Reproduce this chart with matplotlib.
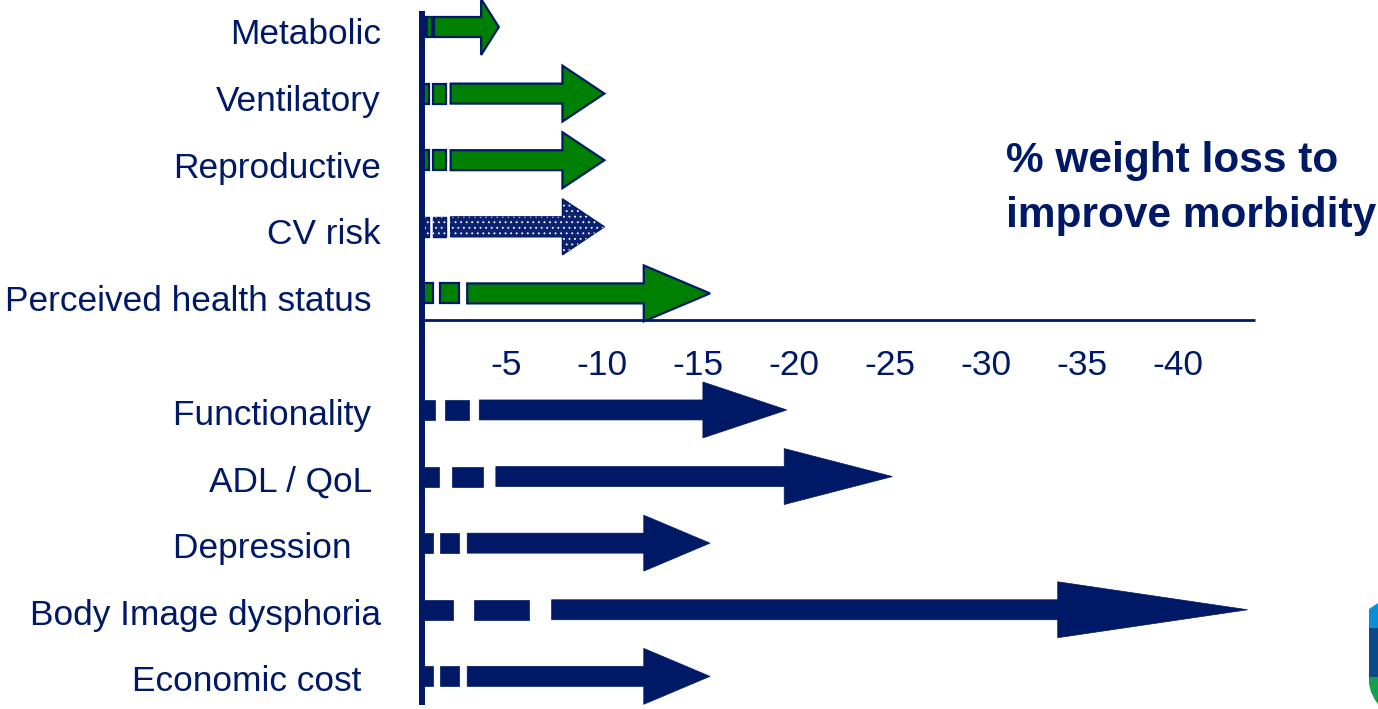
import matplotlib.pyplot as plt
from matplotlib.patches import Polygon, Rectangle
from matplotlib.transforms import ScaledTranslation

plt.rcParams['font.family'] = ['Liberation Sans', 'DejaVu Sans']
plt.rcParams['hatch.linewidth'] = 0.6

NAVY = '#001966'
GREEN = '#008000'

# morbidities above the scale (% weight loss needed, as magnitude)
top_labels = ['Metabolic', 'Ventilatory', 'Reproductive', 'CV risk', 'Perceived health status ']
top_loss = [4, 9.5, 9.5, 9.5, 15]
top_fill = ['green', 'green', 'green', 'dots', 'green']

# morbidities below the scale
bottom_labels = ['Functionality ', 'ADL / QoL ', 'Depression   ', 'Body Image dysphoria', 'Economic cost  ']
bottom_loss = [19, 24.5, 15, 43, 15]

tick_values = [5, 10, 15, 20, 25, 30, 35, 40]
tick_labels = ['-5', '-10', '-15', '-20', '-25', '-30', '-35', '-40']

title = '% weight loss to\nimprove morbidity'

# arrow shape, as fractions of the arrow length
SEG1 = (0.0, 0.037)
SEG2 = (0.063, 0.13)
SHAFT_START = 0.157
HEAD_START = 0.77
HALF_SHAFT = 0.15
HALF_HEAD = 0.42


def draw_arrow(ax, y, length, face, edge, lw, hatch=False):
    parts = []
    for a, b in (SEG1, SEG2):
        parts.append(Rectangle((a * length, y - HALF_SHAFT), (b - a) * length, 2 * HALF_SHAFT))
    x1, x2 = SHAFT_START * length, HEAD_START * length
    parts.append(Polygon([(x1, y - HALF_SHAFT), (x2, y - HALF_SHAFT), (x2, y - HALF_HEAD),
                          (length, y), (x2, y + HALF_HEAD), (x2, y + HALF_SHAFT),
                          (x1, y + HALF_SHAFT)], closed=True))
    for p in parts:
        p.set_facecolor(face)
        p.set_edgecolor(edge)
        p.set_linewidth(lw)
        p.set_joinstyle('miter')
        p.set_zorder(2)
        ax.add_patch(p)
        if hatch:
            # white dotted overlay on the same outline
            h = Polygon(ax.transData.inverted().transform(p.get_verts()), closed=True)
            h.set_facecolor('none')
            h.set_edgecolor('white')
            h.set_linewidth(0)
            h.set_hatch('...')
            h.set_zorder(3)
            ax.add_patch(h)


fig = plt.figure(figsize=(13.78, 7.09), dpi=100)
ax = fig.add_axes([0, 0, 1, 1])
px = 19.2  # pixels per % on the x scale, origin at the vertical axis
row = 66.6
ax.set_xlim(-422 / px, (1378 - 422) / px)
ax.set_ylim((709 - 27) / row, -27 / row)
ax.axis('off')

top_rows = list(range(len(top_labels)))
bottom_rows = [len(top_labels) + 0.75 + i for i in range(len(bottom_labels))]

for y, lab, loss, fill in zip(top_rows, top_labels, top_loss, top_fill):
    if fill == 'dots':
        draw_arrow(ax, y, loss, '#0a2270', NAVY, 1.0, hatch=True)
    else:
        draw_arrow(ax, y, loss, GREEN, NAVY, 1.6)
    ax.text(-2.14, y + 0.12, lab, ha='right', va='center', fontsize=25.4, color=NAVY)

for y, lab, loss in zip(bottom_rows, bottom_labels, bottom_loss):
    draw_arrow(ax, y, loss, NAVY, NAVY, 0.5)
    ax.text(-2.14, y + 0.08, lab, ha='right', va='center', fontsize=25.4, color=NAVY)

# axes of the diagram
ax.plot([0, 0], [-0.24, 10.18], color=NAVY, lw=4.3, solid_capstyle='butt', zorder=5)
ax.plot([0, 43.4], [4.4, 4.4], color=NAVY, lw=2.0, solid_capstyle='butt', zorder=5)

shift = ax.transData + ScaledTranslation(-0.12, 0, fig.dpi_scale_trans)
for v, t in zip(tick_values, tick_labels):
    ax.text(v, 5.09, t, ha='center', va='center', fontsize=25.4, color=NAVY, transform=shift)

ax.text(30.4, 2.43, title, ha='left', va='center', fontsize=30.5, fontweight='bold',
        color=NAVY, linespacing=1.48)

# corner of the logo at the right edge (figure pixels)
W, H = 1378, 709
logo = [
    ([(1369, 609), (1378, 603), (1378, 628), (1369, 628)], '#0a8fd6'),
    ([(1369, 628), (1378, 628), (1378, 677), (1369, 677)], '#0a4a8a'),
    ([(1369, 677), (1378, 677), (1378, 704), (1375, 700), (1371, 692), (1369, 684)], '#10a050'),
]
for pts, c in logo:
    ax.add_patch(Polygon([(x / W, 1 - y / H) for x, y in pts], closed=True,
                         transform=fig.transFigure, facecolor=c, edgecolor='none', zorder=1))

fig.savefig('out.png', dpi=100)
